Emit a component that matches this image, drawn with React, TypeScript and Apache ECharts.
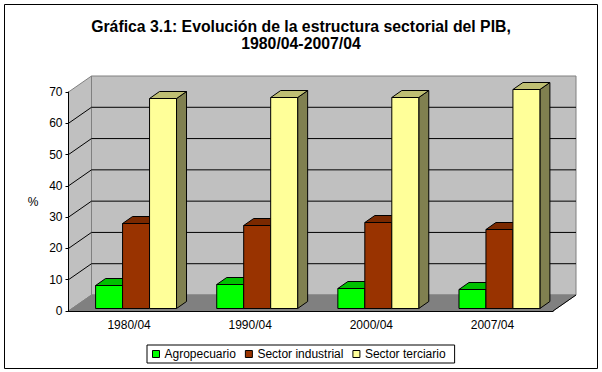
import React, { useEffect, useRef } from "react";
import * as echarts from "echarts";

const titleText = "Gráfica 3.1: Evolución de la estructura sectorial del PIB,\n1980/04-2007/04";
const categories = ["1980/04", "1990/04", "2000/04", "2007/04"];
const seriesNames = ["Agropecuario", "Sector industrial", "Sector terciario"];
const agropecuario = [7.2, 7.5, 6.2, 5.9];
const industrial = [27.0, 26.3, 27.3, 25.0];
const terciario = [66.9, 67.2, 67.2, 69.8];
const yTicks = [0, 10, 20, 30, 40, 50, 60, 70];

const FONT = "'Liberation Sans', Arial, sans-serif";
const DX = 23, DY = -16;
const GREY = "#808080";

function wallItem(params: any, api: any) {
  const cs = params.coordSys;
  const l = cs.x, r = cs.x + cs.width, b = cs.y + cs.height, t = cs.y;
  const poly = (points: number[][], fill: string) => ({
    type: "polygon",
    shape: { points },
    style: { fill, stroke: GREY, lineWidth: 1 },
  });
  const children: any[] = [
    poly([[l + DX, t + DY], [r + DX, t + DY], [r + DX, b + DY], [l + DX, b + DY]], "#C0C0C0"),
    poly([[l, t], [l + DX, t + DY], [l + DX, b + DY], [l, b]], "#C0C0C0"),
    poly([[l, b], [l + DX, b + DY], [r + DX, b + DY], [r, b]], GREY),
    {
      type: "line",
      shape: { x1: r, y1: b, x2: r + DX, y2: b + DY },
      style: { stroke: "#000", lineWidth: 1 },
    },
  ];
  yTicks.forEach((v) => {
    if (v === 0 || v === yTicks[yTicks.length - 1]) return;
    const y = api.coord([0, v])[1];
    children.push({
      type: "polyline",
      shape: { points: [[l, y], [l + DX, y + DY], [r + DX, y + DY]] },
      style: { fill: "none", stroke: "#000", lineWidth: 1 },
    });
  });
  return { type: "group", children };
}

const barRenderer = (slot: number, front: string, top: string, side: string) => (params: any, api: any) => {
  const p = api.coord([api.value(0), api.value(1)]);
  const base = api.coord([api.value(0), 0]);
  const band = api.size([1, 0])[0];
  const w = band * 0.2227;
  const x = p[0] + 7 - 1.5 * w + slot * w;
  const yT = Math.round(p[1] - 3.3) + 0.5;
  const yB = Math.round(base[1] - 3.3) + 0.5;
  const d = 10, e = 7;
  const style = (fill: string) => ({ fill, stroke: "#000", lineWidth: 1 });
  return {
    type: "group",
    children: [
      { type: "polygon", shape: { points: [[x + w, yT], [x + w + d, yT - e], [x + w + d, yB - e], [x + w, yB]] }, style: style(side) },
      { type: "polygon", shape: { points: [[x, yT], [x + d, yT - e], [x + w + d, yT - e], [x + w, yT]] }, style: style(top) },
      { type: "rect", shape: { x, y: yT, width: w, height: yB - yT }, style: style(front) },
    ],
  };
};

const barSeries = (name: string, values: number[], slot: number, front: string, top: string, side: string) => ({
  type: "custom",
  name,
  z: 3,
  itemStyle: { color: front },
  encode: { x: 0, y: 1 },
  data: values.map((v, i) => [i, v]),
  renderItem: barRenderer(slot, front, top, side),
});

export default function App() {
  const ref = useRef<HTMLDivElement>(null);
  useEffect(() => {
    const chart = echarts.init(ref.current!, undefined, { renderer: "svg" });
    chart.setOption({
      animation: false,
      backgroundColor: "#fff",
      textStyle: { fontFamily: FONT },
      title: {
        text: titleText,
        left: "center",
        top: 13,
        textStyle: { fontFamily: FONT, fontSize: 15.8, fontWeight: "bold", color: "#000", lineHeight: 17 },
      },
      grid: { left: 68.5, top: 92, width: 484.5, height: 219 },
      legend: {
        data: seriesNames,
        left: 147,
        top: 345,
        icon: "rect",
        itemWidth: 7,
        itemHeight: 7,
        itemGap: 9,
        padding: [3, 9, 3, 5],
        borderColor: "#000",
        borderWidth: 1,
        selectedMode: false,
        itemStyle: { borderColor: "#000", borderWidth: 1 },
        textStyle: { fontFamily: FONT, fontSize: 12, color: "#000" },
      },
      xAxis: {
        type: "category",
        data: categories,
        z: 5,
        axisLine: { lineStyle: { color: "#000" } },
        axisTick: { length: 3, lineStyle: { color: "#000" } },
        axisLabel: { fontFamily: FONT, fontSize: 12, color: "#000", margin: 8 },
      },
      yAxis: {
        type: "value",
        min: 0,
        max: 70,
        interval: 10,
        z: 5,
        name: "%",
        nameLocation: "middle",
        nameRotate: 0,
        nameGap: 30,
        nameTextStyle: { fontFamily: FONT, fontSize: 12, color: "#000" },
        axisLine: { show: true, lineStyle: { color: "#000" } },
        axisTick: { show: true, length: 3, lineStyle: { color: "#000" } },
        axisLabel: { fontFamily: FONT, fontSize: 12, color: "#000", margin: 6 },
        splitLine: { show: false },
      },
      series: [
        { type: "custom", z: 1, silent: true, encode: { x: 0, y: 1 }, data: [[0, 0]], renderItem: wallItem },
        barSeries(seriesNames[0], agropecuario, 0, "#00FF00", "#00C000", "#00A000"),
        barSeries(seriesNames[1], industrial, 1, "#993300", "#7A2900", "#662200"),
        barSeries(seriesNames[2], terciario, 2, "#FFFF99", "#BFBF73", "#808050"),
      ],
      graphic: [
        {
          type: "rect",
          silent: true,
          z: 10,
          shape: { x: 4.5, y: 4.5, width: 593, height: 364 },
          style: { fill: "none", stroke: "#000", lineWidth: 1 },
        },
      ],
    });
    return () => chart.dispose();
  }, []);
  return <div ref={ref} style={{ position: "fixed", left: 0, top: 0, width: 602, height: 372 }} />;
}
